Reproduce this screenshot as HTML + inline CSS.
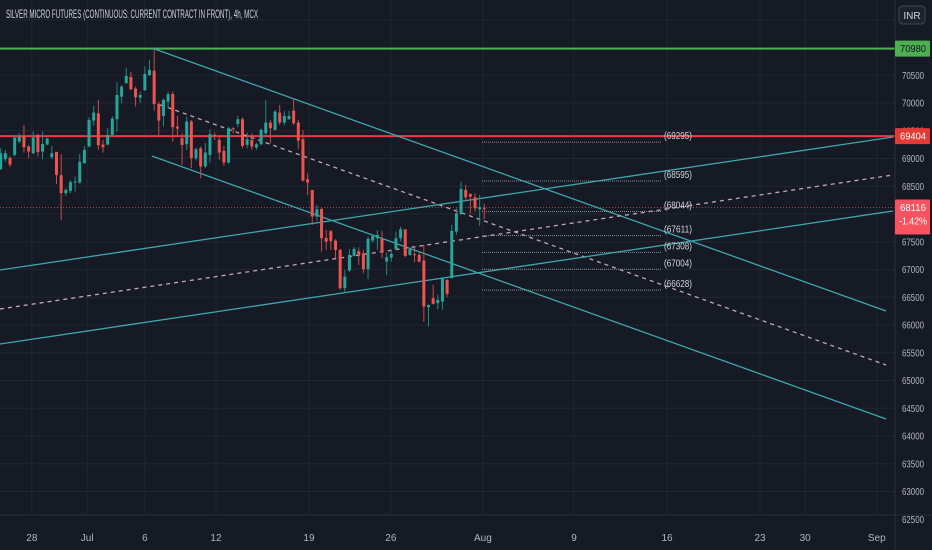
<!DOCTYPE html>
<html><head><meta charset="utf-8">
<style>
html,body{margin:0;padding:0;background:#161a25;}
svg{display:block;font-family:"Liberation Sans",sans-serif;}
</style></head>
<body>
<svg id="chart" width="932" height="550" viewBox="0 0 932 550" xmlns="http://www.w3.org/2000/svg">
<rect x="0" y="0" width="932" height="550" fill="#161a25"/>
<g id="grid"></g>
<g id="lines"></g>
<g id="candles"></g>
<g id="axes"></g>
<text x="6" y="18" font-size="12" fill="#d1d4dc" textLength="252" lengthAdjust="spacingAndGlyphs">SILVER MICRO FUTURES (CONTINUOUS: CURRENT CONTRACT IN FRONT), 4h, MCX</text>
</svg>
<script>
const opens  = [68807,68987,69011,69065,69305,69395,69215,69095,69425,69125,69251,69023,69119,68699,68375,68417,68567,68567,68915,69215,69683,69815,69251,69251,69425,69707,70115,70355,70469,70259,70097,70229,70505,70583,69983,69767,70025,70163,69575,69365,69257,69665,69005,69185,68855,69065,69425,69335,69137,68927,69545,69623,69707,69245,69335,69197,69257,69455,69647,69515,69827,69647,69707,69863,69647,69347,68627,68433,67953,68091,67569,67689,67521,67353,66663,66981,67245,67329,67293,67005,67521,67563,67551,67143,67215,67365,67563,67725,67263,67275,67263,67161,66321,66483,66393,66423,66813,66843,67683,68001,68433,68361,68301,68085,68103];
const highs  = [69185,69155,69035,69425,69455,69605,69245,69485,69443,69485,69377,69227,69119,69083,68465,68615,68675,69083,69227,69743,69947,70055,69335,69545,69767,70379,70325,70637,70565,70295,70205,70655,70775,70967,70025,70085,70205,70205,69767,69455,69755,69695,69197,69215,69275,69527,69467,69395,69227,69575,69563,69767,69743,69467,69455,69287,69545,70055,69695,69875,69965,69857,69857,70085,69695,69515,68735,68433,68163,68103,67713,67713,67545,67371,66993,67365,67401,67401,67353,67593,67623,67713,67695,67305,67353,67683,67773,67725,67383,67401,67305,67443,66363,66723,66543,66861,66825,67803,68103,68583,68523,68373,68373,68343,68175];
const lows   = [68795,68945,68843,69035,69275,69107,69005,69083,69035,68987,69239,68987,68543,67895,68327,68375,68405,68543,68903,69203,69587,69155,69107,69239,69395,69485,69995,70355,70235,69935,69995,70223,70487,69863,69395,69575,69905,69305,69395,68885,69155,68825,68963,68645,68825,68927,69335,68975,68867,68903,69455,69563,69185,69185,69155,69155,69239,69395,69275,69503,69605,69599,69695,69605,69167,68585,68345,67803,67881,67323,67353,67353,67203,66633,66573,66957,67233,67083,66933,66825,67485,67353,67203,66897,67143,67353,67503,67221,67245,67131,67125,66063,65973,66369,66285,66273,66501,66843,67623,67983,68223,68013,68043,67785,67911];
const closes = [69095,69095,68891,69377,69395,69203,69125,69377,69119,69263,69359,69095,68705,68375,68435,68573,68585,68939,69155,69695,69827,69239,69203,69425,69719,70145,70295,70487,70247,70103,70145,70523,70595,69983,69683,70055,70157,69563,69539,69245,69665,69005,69167,68855,69107,69437,69407,69107,68927,69545,69527,69707,69227,69347,69215,69257,69515,69647,69545,69845,69647,69767,69767,69635,69323,68603,68567,67953,68085,67563,67503,67515,67353,66663,66873,67263,67371,67257,67005,67551,67605,67623,67305,67221,67281,67563,67725,67245,67365,67257,67143,66333,66363,66381,66453,66843,66561,67695,68013,68451,68301,68313,68103,68121,68085];
const priceTicks = [71500,71000,70500,70000,69500,69000,68500,68000,67500,67000,66500,66000,65500,65000,64500,64000,63500,63000,62500];
const dateLabels = ["28","Jul","6","12","19","26","Aug","9","16","23","30","Sep"];
const dateIndex  = [6.7,18.6,31,46.3,66.3,83.9,103.7,123.3,143.3,163.3,173,188.4];
const levelValues = [69295,68595,68044,67611,67308,67004,66628];
const hLevels = [70980,69404];
const lastPrice = [68116];
const lastChange = ["-1.42%"];
const trendUpper = [32.5,70991,190.4,66252];
const trendLower = [32.5,69045,190.4,64306];
const trendMid   = [34.3,69967,190.4,65279];
const riseUpper  = [-0.15,66991,191.9,69387];
const riseMid    = [-0.15,66288,191.9,68703];
const riseLower  = [-0.15,65658,191.9,68054];

const NS="http://www.w3.org/2000/svg";
const PW=895, TB=515;
function yS(p){return 103+(70000-p)*0.0555;}
function xS(i){return 0.7+i*4.65;}
function el(tag,attrs,parent){const e=document.createElementNS(NS,tag);for(const k in attrs)e.setAttribute(k,attrs[k]);parent.appendChild(e);return e;}
const grid=document.getElementById('grid'),lines=document.getElementById('lines'),cg=document.getElementById('candles'),axes=document.getElementById('axes');

priceTicks.forEach(p=>{const g=el('line',{x1:0,x2:PW,y1:yS(p),y2:yS(p),stroke:'#222631','stroke-width':1},grid);

});
dateIndex.forEach(i=>{const g=el('line',{x1:xS(i),x2:xS(i),y1:0,y2:TB,stroke:'#222631','stroke-width':1},grid);

});

function seg(a,color,dash,name,w){
  const l=el('line',{x1:xS(a[0]),y1:yS(a[1]),x2:xS(a[2]),y2:yS(a[3]),stroke:color,'stroke-width':w||1.3},lines);
  if(dash)l.setAttribute('stroke-dasharray',dash);
  
  
}
const hColors=['#4caf50','#f23645'];
hLevels.forEach((p,k)=>{const l=el('line',{x1:0,x2:PW,y1:yS(p),y2:yS(p),stroke:hColors[k],'stroke-width':2},lines);

});
const lp=el('line',{x1:0,x2:PW,y1:yS(lastPrice[0]),y2:yS(lastPrice[0]),stroke:'#b0424a','stroke-width':1,'stroke-dasharray':'1 2'},lines);



seg(trendUpper,'#3fa6ae',null,'channel-upper-line');
seg(trendLower,'#3fa6ae',null,'channel-lower-line');
seg(trendMid,'#c9a6b4','4 4','channel-mid-line');
seg(riseUpper,'#3fa6ae',null,'rising-channel-upper');
seg(riseMid,'#c9a6b4','4 4','rising-channel-mid');
seg(riseLower,'#3fa6ae',null,'rising-channel-lower');

levelValues.forEach(v=>{
  const y=yS(v);
  const l=el('line',{x1:482,x2:662,y1:y,y2:y,stroke:'#8a8d96','stroke-width':1,'stroke-dasharray':'1 1'},lines);
  
  
  const t=el('text',{x:664,y:y-3,'font-size':10.5,fill:'#d1d4dc',textLength:'28',lengthAdjust:'spacingAndGlyphs'},lines);
  t.textContent='('+v+')';
  
  
});

for(let i=0;i<opens.length;i++){
  const up=closes[i]>=opens[i], c=up?'#26a69a':'#ef5350', x=xS(i);
  const w=el('line',{x1:x,x2:x,y1:yS(highs[i]),y2:yS(lows[i]),stroke:up?'#1f8a80':'#c94a48','stroke-width':1},cg);
  
  
  const t=yS(Math.max(opens[i],closes[i])),b=yS(Math.min(opens[i],closes[i]));
  const r=el('rect',{x:x-1.5,y:t,width:3,height:Math.max(1,b-t),fill:c},cg);
  
  
}

const pa=el('rect',{x:PW,y:0,width:932-PW,height:550,fill:'#161a25'},axes);


const ta=el('rect',{x:0,y:TB,width:932,height:550-TB,fill:'#161a25'},axes);


const b1=el('line',{x1:PW,x2:PW,y1:0,y2:550,stroke:'#2a2e39'},axes);


const b2=el('line',{x1:0,x2:932,y1:TB,y2:TB,stroke:'#2a2e39'},axes);


priceTicks.forEach(p=>{const t=el('text',{x:902,y:yS(p)+3.5,'font-size':10,fill:'#b2b5be',textLength:'22',lengthAdjust:'spacingAndGlyphs'},axes);
t.textContent=p;

});
dateLabels.forEach((d,k)=>{const t=el('text',{x:xS(dateIndex[k]),y:541,'font-size':10,fill:'#b2b5be','text-anchor':'middle'},axes);
t.textContent=d;

});
function badge(p,fill,txt,name,h,sub,tc){
  const y=yS(p);
  const r=el('rect',{x:PW,y:y-8,width:35,height:h,fill:fill,rx:1},axes);
  
  
  const t=el('text',{x:900,y:y+3.5,'font-size':10,fill:tc||'#ffffff',textLength:'26',lengthAdjust:'spacingAndGlyphs'},axes);
  t.textContent=txt;
  
  
  if(sub){const s=el('text',{x:899,y:y+17,'font-size':10,fill:'#ffffff',textLength:'28',lengthAdjust:'spacingAndGlyphs'},axes);
  s.textContent=sub;
  
  }
}
badge(hLevels[0],'#4caf50',String(hLevels[0]),'resistance-price-badge',16,null,'#131722');
badge(hLevels[1],'#e53935',String(hLevels[1]),'support-price-badge',16);
badge(lastPrice[0],'#f7525f',String(lastPrice[0]),'last-price-badge',35,lastChange[0]);
const ib=el('rect',{x:899,y:6,width:26,height:18,rx:4,fill:'#1e222d',stroke:'#434651'},axes);


const it=el('text',{x:912,y:19,'font-size':10,fill:'#d1d4dc','text-anchor':'middle'},axes);
it.textContent='INR';


</script>
</body></html>
